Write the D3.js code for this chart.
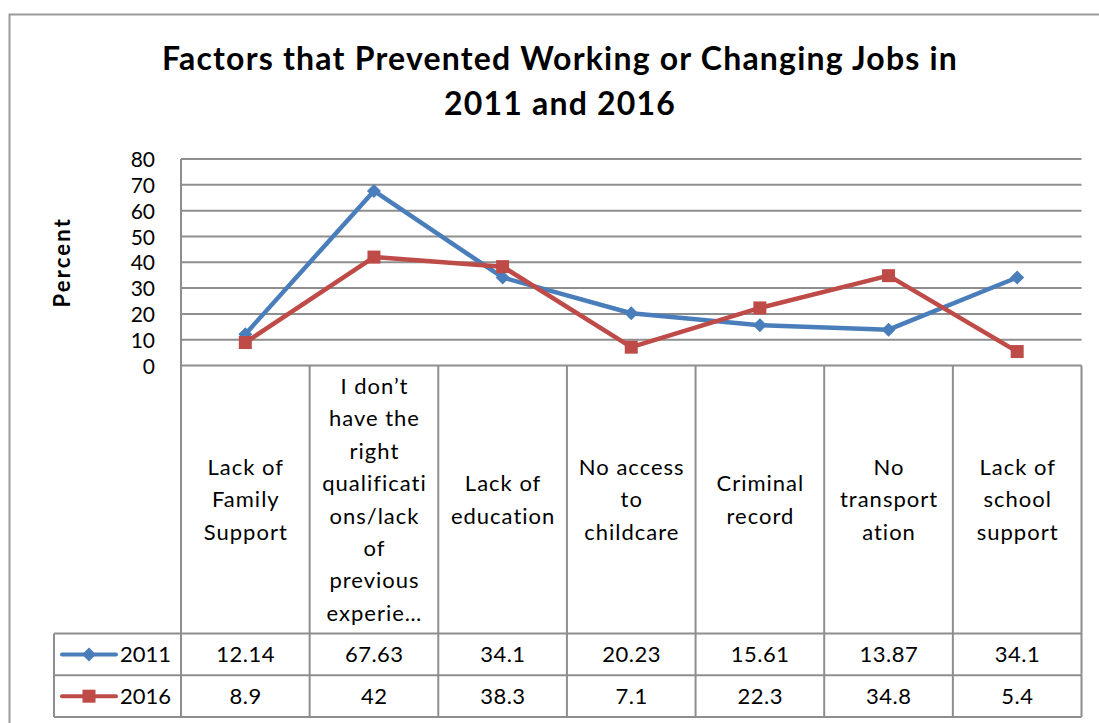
<!DOCTYPE html>
<html>
<head>
<meta charset="utf-8">
<script src="https://cdn.jsdelivr.net/npm/d3@7"></script>
<style>
  html, body { margin: 0; padding: 0; background: #fff; }
  svg { display: block; }
  text { font-family: Lato, "Open Sans", sans-serif; fill: #000; }
</style>
</head>
<body>
<svg id="chart" width="1099" height="723"></svg>
<script>
// Survey results: share of respondents citing each factor
const categories = [
  ["Lack of", "Family", "Support"],
  ["I don\u2019t", "have the", "right", "qualificati", "ons/lack", "of", "previous", "experie\u2026"],
  ["Lack of", "education"],
  ["No access", "to", "childcare"],
  ["Criminal", "record"],
  ["No", "transport", "ation"],
  ["Lack of", "school", "support"]
];
const seriesNames = ["2011", "2016"];
const values2011 = [12.14, 67.63, 34.1, 20.23, 15.61, 13.87, 34.1];
const values2016 = [8.9, 42, 38.3, 7.1, 22.3, 34.8, 5.4];
const yTicks = [0, 10, 20, 30, 40, 50, 60, 70, 80];
const titleLines = ["Factors that Prevented Working or Changing Jobs in", "2011 and 2016"];

const series = [
  { name: seriesNames[0], values: values2011, color: "#4A7EBB", marker: "diamond" },
  { name: seriesNames[1], values: values2016, color: "#BE4B48", marker: "square" }
];

const svg = d3.select("#chart");
const gridColor = "#8E8E8E";

// outer chart frame
svg.append("rect")
  .attr("x", 9.5).attr("y", 14.5)
  .attr("width", 1120).attr("height", 720)
  .attr("fill", "none").attr("stroke", "#9A9A9A").attr("stroke-width", 2);

// title
titleLines.forEach((t, i) => {
  svg.append("text")
    .attr("x", 560).attr("y", 70 + i * 45)
    .attr("text-anchor", "middle")
    .attr("font-weight", "bold")
    .attr("font-size", 32)
    .attr("letter-spacing", 1.2)
    .text(t);
});

// plot geometry
const plot = { left: 181, right: 1081.5, top: 159, bottom: 365.5 };
const table = { legendLeft: 54, headerBottom: 633.5, rowH: 41.8 };

const x = d3.scaleBand()
  .domain(d3.range(categories.length))
  .range([plot.left, plot.right]);
const y = d3.scaleLinear().domain([0, 80]).range([plot.bottom, plot.top]);

// horizontal gridlines
svg.append("g")
  .selectAll("line").data(yTicks).join("line")
  .attr("x1", plot.left).attr("x2", plot.right)
  .attr("y1", d => y(d)).attr("y2", d => y(d))
  .attr("stroke", gridColor).attr("stroke-width", 2);

// value axis labels
const yAxis = d3.axisLeft(y).tickValues(yTicks).tickSize(0).tickPadding(0);
const yg = svg.append("g").attr("transform", "translate(155,0)").call(yAxis);
yg.select(".domain").remove();
yg.selectAll("text")
  .attr("font-size", 21)
  .attr("font-family", "Lato, 'Open Sans', sans-serif")
  .attr("fill", "#000")
  .attr("dy", "0.36em");

// axis title
svg.append("text")
  .attr("transform", `translate(69.5,${(plot.top + plot.bottom) / 2}) rotate(-90)`)
  .attr("text-anchor", "middle")
  .attr("font-weight", "bold")
  .attr("font-size", 22)
  .attr("letter-spacing", 2.2)
  .text("Percent");

// data table grid
const tableBottom = table.headerBottom + 2 * table.rowH;
const tg = svg.append("g").attr("stroke", gridColor).attr("stroke-width", 2);
// plot left edge continues down through the table
tg.append("line").attr("x1", plot.left).attr("x2", plot.left)
  .attr("y1", plot.top).attr("y2", tableBottom);
// column separators
d3.range(1, categories.length + 1).forEach(i => {
  const cx = x(i - 1) + x.bandwidth();
  tg.append("line").attr("x1", cx).attr("x2", cx)
    .attr("y1", plot.bottom).attr("y2", tableBottom);
});
// legend column left edge
tg.append("line").attr("x1", table.legendLeft).attr("x2", table.legendLeft)
  .attr("y1", table.headerBottom).attr("y2", tableBottom);
// row separators
[0, 1, 2].forEach(r => {
  const ry = table.headerBottom + r * table.rowH;
  tg.append("line").attr("x1", table.legendLeft).attr("x2", plot.right)
    .attr("y1", ry).attr("y2", ry);
});

// category header labels
const lineH = 32.4;
const headerMid = (plot.bottom + table.headerBottom) / 2;
categories.forEach((lines, i) => {
  const t = svg.append("text")
    .attr("text-anchor", "middle")
    .attr("font-size", 22)
    .attr("letter-spacing", 1);
  const y0 = headerMid - (lines.length - 1) * lineH / 2;
  lines.forEach((ln, j) => {
    t.append("tspan")
      .attr("x", x(i) + x.bandwidth() / 2 + 0.5)
      .attr("y", y0 + j * lineH)
      .attr("dy", "0.36em")
      .text(ln);
  });
});

// marker shapes
function drawMarker(g, kind, cx, cy, color) {
  if (kind === "diamond") {
    const s = 7;
    g.append("path")
      .attr("d", `M${cx},${cy - s}L${cx + s},${cy}L${cx},${cy + s}L${cx - s},${cy}Z`)
      .attr("fill", color);
  } else {
    const s = 13;
    g.append("rect")
      .attr("x", cx - s / 2).attr("y", cy - s / 2)
      .attr("width", s).attr("height", s)
      .attr("fill", color);
  }
}

// lines and markers
const line = d3.line()
  .x((d, i) => x(i) + x.bandwidth() / 2)
  .y(d => y(d));
series.forEach(s => {
  const g = svg.append("g");
  g.append("path")
    .attr("d", line(s.values))
    .attr("fill", "none")
    .attr("stroke", s.color)
    .attr("stroke-width", 4.5)
    .attr("stroke-linejoin", "round");
  s.values.forEach((v, i) => drawMarker(g, s.marker, x(i) + x.bandwidth() / 2, y(v), s.color));
});

// table rows: legend key + values
series.forEach((s, r) => {
  const cy = table.headerBottom + (r + 0.5) * table.rowH;
  const g = svg.append("g");
  g.append("line")
    .attr("x1", 62).attr("x2", 116)
    .attr("y1", cy).attr("y2", cy)
    .attr("stroke", s.color).attr("stroke-width", 4)
    .attr("stroke-linecap", "round");
  drawMarker(g, s.marker, 89, cy, s.color);
  g.append("text")
    .attr("x", 120).attr("y", cy).attr("dy", "0.36em")
    .attr("font-size", 22)
    .text(s.name);
  s.values.forEach((v, i) => {
    g.append("text")
      .attr("x", x(i) + x.bandwidth() / 2 + 0.3).attr("y", cy).attr("dy", "0.36em")
      .attr("text-anchor", "middle")
      .attr("font-size", 22)
      .attr("letter-spacing", 0.5)
      .text(v);
  });
});
</script>
</body>
</html>
